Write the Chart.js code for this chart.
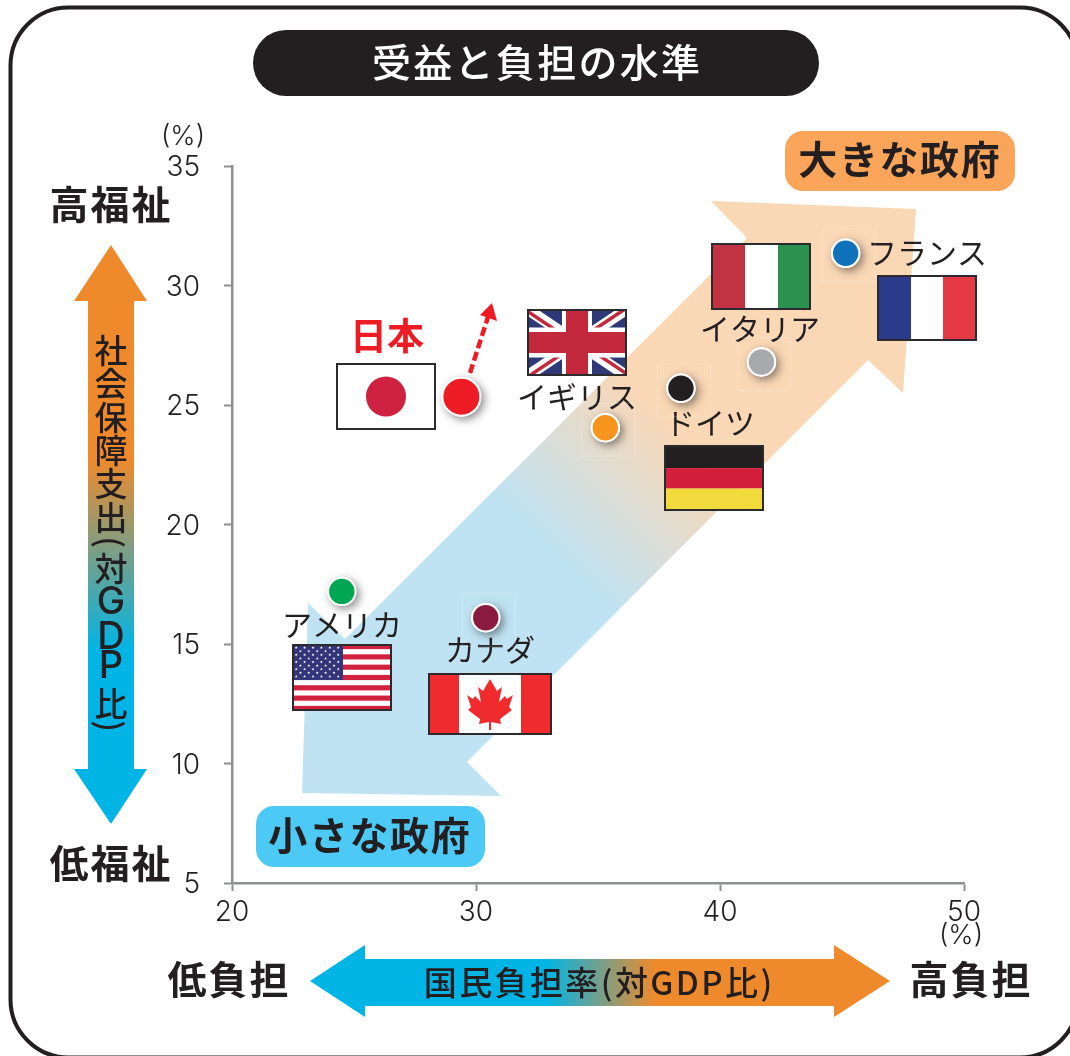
<!DOCTYPE html>
<html lang="ja">
<head>
<meta charset="utf-8">
<title>受益と負担の水準</title>
<script src="https://cdn.jsdelivr.net/npm/chart.js@4"></script>
<style>
  html, body { margin: 0; padding: 0; background: #fff; overflow: hidden; }
  canvas { display: block; }
</style>
</head>
<body>
<canvas id="chart" width="1070" height="1056"></canvas>
<script>
const countries = ["アメリカ", "カナダ", "日本", "イギリス", "ドイツ", "イタリア", "フランス"];
const burdenRate = [24.5, 30.4, 29.4, 35.3, 38.4, 41.7, 45.15];
const welfareSpending = [17.2, 16.1, 25.35, 24.05, 25.7, 26.8, 31.35];
const pointColors = ["#00a651", "#8a1a40", "#ed1c24", "#f7941d", "#231f20", "#a7a9ac", "#0f72ba"];
const pointSizes = [13.7, 13.7, 19, 13.7, 13.7, 13.7, 13.7];
const xTicks = [20, 30, 40, 50];
const yTicks = [5, 10, 15, 20, 25, 30, 35];

const CJK = '"Noto Sans CJK JP", sans-serif';
const INK = "#231f20";
const CYAN = "#00b5e6";

function text(ctx, str, x, y, size, opts = {}) {
  ctx.save();
  ctx.font = `${opts.weight || 400} ${size}px ${opts.family || CJK}`;
  ctx.fillStyle = opts.color || INK;
  ctx.textAlign = "center";
  ctx.textBaseline = "middle";
  ctx.letterSpacing = (opts.spacing || 0) + "px";
  ctx.fillText(str, x + (opts.spacing || 0) / 2, y);
  ctx.restore();
}

function poly(ctx, pts) {
  ctx.beginPath();
  pts.forEach((p, i) => (i ? ctx.lineTo(p[0], p[1]) : ctx.moveTo(p[0], p[1])));
  ctx.closePath();
}

function pill(ctx, x, y, w, h, r, color) {
  ctx.beginPath();
  ctx.roundRect(x, y, w, h, r);
  ctx.fillStyle = color;
  ctx.fill();
}

function drawFrame(ctx) {
  ctx.beginPath();
  ctx.roundRect(10.5, 7.5, 1067.5, 1050, 58);
  ctx.strokeStyle = INK;
  ctx.lineWidth = 4;
  ctx.stroke();
}

function drawHeadings(ctx) {
  pill(ctx, 253, 30, 566, 66, 33, INK);
  text(ctx, "受益と負担の水準", 536, 62, 39, { color: "#fff", weight: 500, spacing: 2.3 });

  pill(ctx, 785, 131, 230, 60, 18, "#fba55a");
  text(ctx, "大きな政府", 899, 159, 39, { weight: 700, spacing: 1.6 });
  pill(ctx, 256, 806, 229, 61, 18, "#4cc9f5");
  text(ctx, "小さな政府", 369, 835, 39, { weight: 700, spacing: 1.6 });

  text(ctx, "高福祉", 110, 204, 39, { weight: 700, spacing: 2 });
  text(ctx, "低福祉", 110, 863, 39, { weight: 700, spacing: 2 });
  text(ctx, "低負担", 228, 979, 39, { weight: 700, spacing: 2 });
  text(ctx, "高負担", 970, 979, 39, { weight: 700, spacing: 2 });
  text(ctx, "(%)", 183, 137, 27, { family: "Inter, sans-serif", weight: 300 });
  text(ctx, "(%)", 961, 936, 27, { family: "Inter, sans-serif", weight: 300 });
}

function drawSideArrows(ctx) {
  // vertical welfare arrow
  const v = ctx.createLinearGradient(0, 460, 0, 650);
  v.addColorStop(0, "#ee8a2c");
  v.addColorStop(1, CYAN);
  poly(ctx, [[111, 245], [147, 301], [134, 301], [134, 769], [147, 769], [111, 824], [74, 769], [88, 769], [88, 301], [74, 301]]);
  ctx.fillStyle = v;
  ctx.fill();

  const stacked = [["社", 350], ["会", 383], ["保", 417], ["障", 450], ["支", 483], ["出", 517],
    ["対", 568], ["G", 603], ["D", 638], ["P", 667], ["比", 703]];
  stacked.forEach(([c, y]) => {
    const latin = "GDP".includes(c);
    text(ctx, c, 111, y, latin ? 38 : 33, { family: latin ? "Inter, sans-serif" : CJK, weight: 500 });
  });
  [["(", 542], [")", 726]].forEach(([c, y]) => {
    ctx.save();
    ctx.translate(111, y);
    ctx.rotate(Math.PI / 2);
    text(ctx, c, 0, 0, 33, { weight: 500 });
    ctx.restore();
  });

  // horizontal burden arrow
  const h = ctx.createLinearGradient(546, 0, 655, 0);
  h.addColorStop(0, CYAN);
  h.addColorStop(1, "#ee8a2c");
  poly(ctx, [[310, 981], [365, 945], [365, 959], [834, 959], [834, 945], [890, 981], [834, 1017], [834, 1006], [365, 1006], [365, 1017]]);
  ctx.fillStyle = h;
  ctx.fill();
  text(ctx, "国民負担率(対GDP比)", 598, 982, 33, { spacing: 2.4, weight: 500 });
}

function drawBigArrow(ctx) {
  const g = ctx.createLinearGradient(490, 490, 615, 365);
  g.addColorStop(0, "#bfe3f3");
  g.addColorStop(1, "#fad7b5");
  poly(ctx, [[711, 201], [916, 209], [903, 393], [868, 360], [467, 762], [501, 796], [302, 793], [308, 603], [345, 639], [747, 238]]);
  ctx.fillStyle = g;
  ctx.fill();
}

function flagBorder(ctx, x, y, w, h) {
  ctx.strokeStyle = "#2b2b2d";
  ctx.lineWidth = 2;
  ctx.strokeRect(x + 1, y + 1, w - 2, h - 2);
}

function vStripes(ctx, x, y, w, h, stops) {
  stops.forEach(([from, to, color]) => {
    ctx.fillStyle = color;
    ctx.fillRect(x + from * w, y, (to - from) * w, h);
  });
}

function drawJapan(ctx, x, y, w, h) {
  ctx.fillStyle = "#fff";
  ctx.fillRect(x, y, w, h);
  ctx.beginPath();
  ctx.arc(x + w / 2, y + h / 2, 20, 0, Math.PI * 2);
  ctx.fillStyle = "#cf2140";
  ctx.fill();
  flagBorder(ctx, x, y, w, h);
}

function drawUK(ctx, x, y, w, h) {
  ctx.save();
  ctx.beginPath();
  ctx.rect(x, y, w, h);
  ctx.clip();
  ctx.fillStyle = "#2e3a78";
  ctx.fillRect(x, y, w, h);
  const line = (x0, y0, x1, y1, lw, color) => {
    ctx.beginPath();
    ctx.moveTo(x0, y0);
    ctx.lineTo(x1, y1);
    ctx.lineWidth = lw;
    ctx.strokeStyle = color;
    ctx.stroke();
  };
  line(x, y, x + w, y + h, 11, "#fff");
  line(x + w, y, x, y + h, 11, "#fff");
  line(x, y + 2, x + w / 2, y + h / 2 + 2, 3.5, "#c4283c");
  line(x + w, y + h - 2, x + w / 2, y + h / 2 - 2, 3.5, "#c4283c");
  line(x + w - 2, y, x + w / 2 - 2, y + h / 2, 3.5, "#c4283c");
  line(x + 2, y + h, x + w / 2 + 2, y + h / 2, 3.5, "#c4283c");
  ctx.fillStyle = "#fff";
  ctx.fillRect(x + w / 2 - 15, y, 30, h);
  ctx.fillRect(x, y + h / 2 - 15, w, 30);
  ctx.fillStyle = "#c4283c";
  ctx.fillRect(x + w / 2 - 11, y, 22, h);
  ctx.fillRect(x, y + h / 2 - 10.5, w, 21);
  ctx.restore();
  flagBorder(ctx, x, y, w, h);
}

function drawGermany(ctx, x, y, w, h) {
  [[INK, 0, 0.35], ["#d21f3c", 0.35, 0.66], ["#f3da3c", 0.66, 1]].forEach(([c, a, b]) => {
    ctx.fillStyle = c;
    ctx.fillRect(x, y + a * h, w, (b - a) * h);
  });
  flagBorder(ctx, x, y, w, h);
}

function star(ctx, cx, cy, r) {
  const pts = [];
  for (let i = 0; i < 10; i++) {
    const a = -Math.PI / 2 + (i * Math.PI) / 5;
    const rr = i % 2 ? r * 0.4 : r;
    pts.push([cx + rr * Math.cos(a), cy + rr * Math.sin(a)]);
  }
  poly(ctx, pts);
  ctx.fill();
}

function drawUSA(ctx, x, y, w, h) {
  ctx.fillStyle = "#fff";
  ctx.fillRect(x, y, w, h);
  ctx.fillStyle = "#d2213f";
  for (let i = 0; i < 13; i += 2) {
    ctx.fillRect(x, y + (i * h) / 13, w, h / 13);
  }
  const cw = 51, ch = 36;
  ctx.fillStyle = "#33357a";
  ctx.fillRect(x, y, cw, ch);
  ctx.fillStyle = "#fff";
  for (let r = 0; r < 9; r++) {
    const n = r % 2 ? 5 : 6;
    for (let c = 0; c < n; c++) {
      const sx = x + (r % 2 ? 8.4 : 4.2) + c * 8.4;
      star(ctx, sx, y + 3.6 + r * 3.6, 1.6);
    }
  }
  flagBorder(ctx, x, y, w, h);
}

function drawCanada(ctx, x, y, w, h) {
  ctx.fillStyle = "#fff";
  ctx.fillRect(x, y, w, h);
  vStripes(ctx, x, y, w, h, [[0, 0.25, "#ef2b2d"], [0.75, 1, "#ef2b2d"]]);
  const half = [[0, -24], [7, -12], [12, -16], [9, -1], [15, -7], [17, -4], [23, -8], [19, 4], [22, 7], [10, 16], [11, 21], [1, 19], [1, 27]];
  const cx = x + w / 2, cy = y + h / 2 - 1;
  const left = half.slice().reverse().map(([a, b]) => [-a, b]);
  ctx.fillStyle = "#ef2b2d";
  poly(ctx, half.concat(left).map(([a, b]) => [cx + a, cy + b]));
  ctx.fill();
  flagBorder(ctx, x, y, w, h);
}

function drawFlags(ctx) {
  drawJapan(ctx, 336, 363, 100, 67);
  drawUK(ctx, 527, 309, 100, 67);
  vStripes(ctx, 711, 243, 100, 67, [[0, 0.34, "#c13342"], [0.34, 0.67, "#fff"], [0.67, 1, "#2a924e"]]);
  flagBorder(ctx, 711, 243, 100, 67);
  vStripes(ctx, 877, 275, 100, 66, [[0, 0.34, "#2b3a8a"], [0.34, 0.66, "#fff"], [0.66, 1, "#e63946"]]);
  flagBorder(ctx, 877, 275, 100, 66);
  drawGermany(ctx, 664, 445, 100, 66);
  drawUSA(ctx, 292, 644, 100, 67);
  drawCanada(ctx, 428, 673, 124, 62);
}

function drawCountryLabels(ctx) {
  const places = { "アメリカ": [342, 625], "カナダ": [490, 650], "イギリス": [577, 397], "ドイツ": [710, 423], "イタリア": [760, 329], "フランス": [927, 253] };
  countries.forEach((name) => {
    if (places[name]) text(ctx, name, places[name][0], places[name][1], 30);
  });
  text(ctx, "日本", 387, 336, 37, { weight: 700, color: "#ed1c24" });
}

function drawJapanArrow(ctx) {
  ctx.save();
  ctx.strokeStyle = "#ed1c24";
  ctx.lineWidth = 4.5;
  ctx.setLineDash([9, 4]);
  ctx.beginPath();
  ctx.moveTo(470, 373);
  ctx.lineTo(488, 317);
  ctx.stroke();
  ctx.restore();
  poly(ctx, [[492, 303], [497, 321], [480, 315]]);
  ctx.fillStyle = "#ed1c24";
  ctx.fill();
}

function drawPointBacks(chart) {
  const ctx = chart.ctx;
  const sx = chart.scales.x, sy = chart.scales.y;
  burdenRate.forEach((b, i) => {
    const px = sx.getPixelForValue(b);
    const py = sy.getPixelForValue(welfareSpending[i]);
    // faint box the drop shadows left behind in the artwork
    if (i !== 0 && i !== 2) {
      ctx.strokeStyle = "rgba(255,255,255,0.22)";
      ctx.lineWidth = 1;
      ctx.strokeRect(px - 23.5, py - 24.5, 53, 53);
    }
    ctx.save();
    ctx.shadowColor = "rgba(0,0,0,0.45)";
    ctx.shadowBlur = 8;
    ctx.shadowOffsetX = 3;
    ctx.shadowOffsetY = 3;
    ctx.beginPath();
    ctx.arc(px, py, pointSizes[i] + 1, 0, Math.PI * 2);
    ctx.fillStyle = "#fff";
    ctx.fill();
    ctx.restore();
  });
}

const artwork = {
  id: "artwork",
  beforeDraw(chart) {
    const ctx = chart.ctx;
    ctx.save();
    ctx.fillStyle = "#fff";
    ctx.fillRect(0, 0, chart.width, chart.height);
    drawFrame(ctx);
    drawHeadings(ctx);
    drawSideArrows(ctx);
    ctx.restore();
  },
  beforeDatasetsDraw(chart) {
    const ctx = chart.ctx;
    ctx.save();
    drawBigArrow(ctx);
    drawFlags(ctx);
    drawCountryLabels(ctx);
    drawJapanArrow(ctx);
    drawPointBacks(chart);
    ctx.restore();
  },
};

const axisGrey = "#8d8f91";
const tickFont = { family: "Inter, sans-serif", size: 28, weight: 300 };

new Chart(document.getElementById("chart"), {
  type: "scatter",
  plugins: [artwork],
  data: {
    labels: countries,
    datasets: [{
      data: burdenRate.map((b, i) => ({ x: b, y: welfareSpending[i] })),
      backgroundColor: pointColors,
      borderColor: "#fff",
      borderWidth: 2,
      pointRadius: pointSizes,
      pointHoverRadius: pointSizes,
    }],
  },
  options: {
    responsive: false,
    animation: false,
    events: [],
    layout: { padding: { top: 166, right: 106, left: 0, bottom: 0 } },
    plugins: { legend: { display: false }, tooltip: { enabled: false } },
    scales: {
      x: {
        type: "linear",
        min: 20,
        max: 50,
        afterFit: (s) => { s.height = 173; },
        afterBuildTicks: (s) => { s.ticks = xTicks.map((v) => ({ value: v })); },
        border: { color: axisGrey, width: 2.5 },
        grid: { drawOnChartArea: false, color: axisGrey, tickLength: 8, tickWidth: 2 },
        ticks: { color: INK, font: tickFont, padding: 5, maxRotation: 0 },
      },
      y: {
        type: "linear",
        min: 5,
        max: 35,
        afterFit: (s) => { s.width = 232; },
        afterBuildTicks: (s) => { s.ticks = yTicks.map((v) => ({ value: v })); },
        border: { color: axisGrey, width: 2.5 },
        grid: { drawOnChartArea: false, color: axisGrey, tickLength: 8, tickWidth: 2 },
        ticks: { color: INK, font: tickFont, padding: 24, labelOffset: 2 },
      },
    },
  },
});
</script>
</body>
</html>
